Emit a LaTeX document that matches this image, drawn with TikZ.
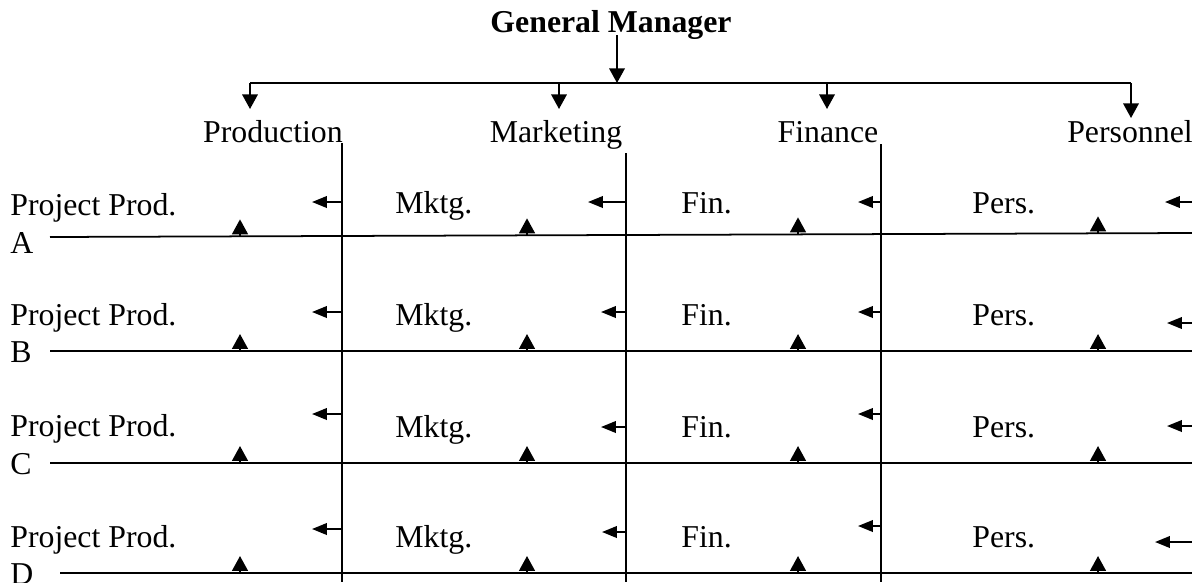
\documentclass[tikz,border=0pt]{standalone}
\usepackage{fontspec}
\setmainfont{Liberation Serif}
\usetikzlibrary{arrows.meta}
\begin{document}
\begin{tikzpicture}[x=0.02cm,y=-0.02cm,
  rule/.style={line width=1pt},
  droparrow/.style={line width=1.1pt,-{Triangle[length=8.3pt,width=8.8pt]}},
  uparrow/.style={line width=1.1pt,-{Triangle[length=8.5pt,width=9pt]}},
  leftarrow/.style={line width=1.1pt,-{Triangle[length=8.5pt,width=6.6pt]}},
  lbl/.style={inner sep=0pt,font=\fontsize{18.1}{21}\selectfont},
  head/.style={inner sep=0pt,font=\fontsize{18.1}{21}\selectfont\bfseries}]
\useasboundingbox (0,0) rectangle (1192,582);

% general manager and the bar feeding the four functions
\node[head,anchor=base] (gm) at (611,32) {General Manager};
\coordinate (gmfoot) at (617,35);
\coordinate (hub) at (617,83);
\coordinate (barL) at (250,83);
\coordinate (barR) at (1131,83);
\draw[rule] (barL) -- (barR);
\draw[droparrow] (gmfoot) -- (hub);

% functional departments
\foreach \n/\t/\cx/\ax/\tip in {prod/Production/273/250/109,
    mktg/Marketing/556/559/109, fin/Finance/828/827/109,
    pers/Personnel/1130/1131/118} {
  \node[lbl,anchor=base] (\n) at (\cx,142) {\t};
  \coordinate (\n-drop) at (\ax,83);
  \coordinate (\n-tip) at (\ax,\tip);
  \draw[droparrow] (\n-drop) -- (\n-tip);
}

% vertical dividers under the departments
\foreach \n/\xx/\top in {prod/342/143, mktg/626/153, fin/881/144} {
  \coordinate (\n-top) at (\xx,\top);
  \coordinate (\n-bot) at (\xx,582);
  \draw[rule] (\n-top) -- (\n-bot);
}

% project rows
\foreach \r/\yl/\yr/\xs/\lb/\pb/\cb/\aa/\ab/\ac/\ad/\mt/\rt in {
    A/237/233/50/213/215/253/202/202/202/202/588/1165,
    B/351/351/50/325/325/362/312/312/312/323/601/1167,
    C/463/463/50/437/436/474/414/427/414/426/601/1167,
    D/573/573/60/547/547/584/529/532/526/542/602/1155} {
  \node[lbl,anchor=base west] (proj\r) at (10,\pb) {Project Prod.};
  \node[lbl,anchor=base west] (tag\r) at (10,\cb) {\r};
  \node[lbl,anchor=base west] (mk\r) at (395,\lb) {Mktg.};
  \node[lbl,anchor=base west] (fn\r) at (681,\lb) {Fin.};
  \node[lbl,anchor=base west] (ps\r) at (972,\lb) {Pers.};
  \coordinate (row\r-w) at (\xs,\yl);
  \coordinate (row\r-e) at (1192,\yr);
  \draw[rule] (row\r-w) -- (row\r-e);
  % reporting arrows from each divider
  \coordinate (l\r1-s) at (342,\aa);  \coordinate (l\r1-t) at (312,\aa);
  \coordinate (l\r2-s) at (626,\ab);  \coordinate (l\r2-t) at (\mt,\ab);
  \coordinate (l\r3-s) at (881,\ac);  \coordinate (l\r3-t) at (858,\ac);
  \coordinate (l\r4-s) at (1192,\ad); \coordinate (l\r4-t) at (\rt,\ad);
  \foreach \k in {1,2,3,4} {
    \draw[leftarrow] (l\r\k-s) -- (l\r\k-t);
  }
  % upward arrows standing on the row line
  \foreach \ux [count=\j] in {240,527,798,1098} {
    \pgfmathsetmacro\yb{\yl+(\yr-\yl)*(\ux-\xs)/(1192-\xs)}
    \pgfmathsetmacro\yt{\yb-17}
    \coordinate (u\r\j-b) at (\ux,\yb);
    \coordinate (u\r\j-t) at (\ux,\yt);
    \draw[uparrow] (u\r\j-b) -- (u\r\j-t);
  }
}
\end{tikzpicture}
\end{document}
